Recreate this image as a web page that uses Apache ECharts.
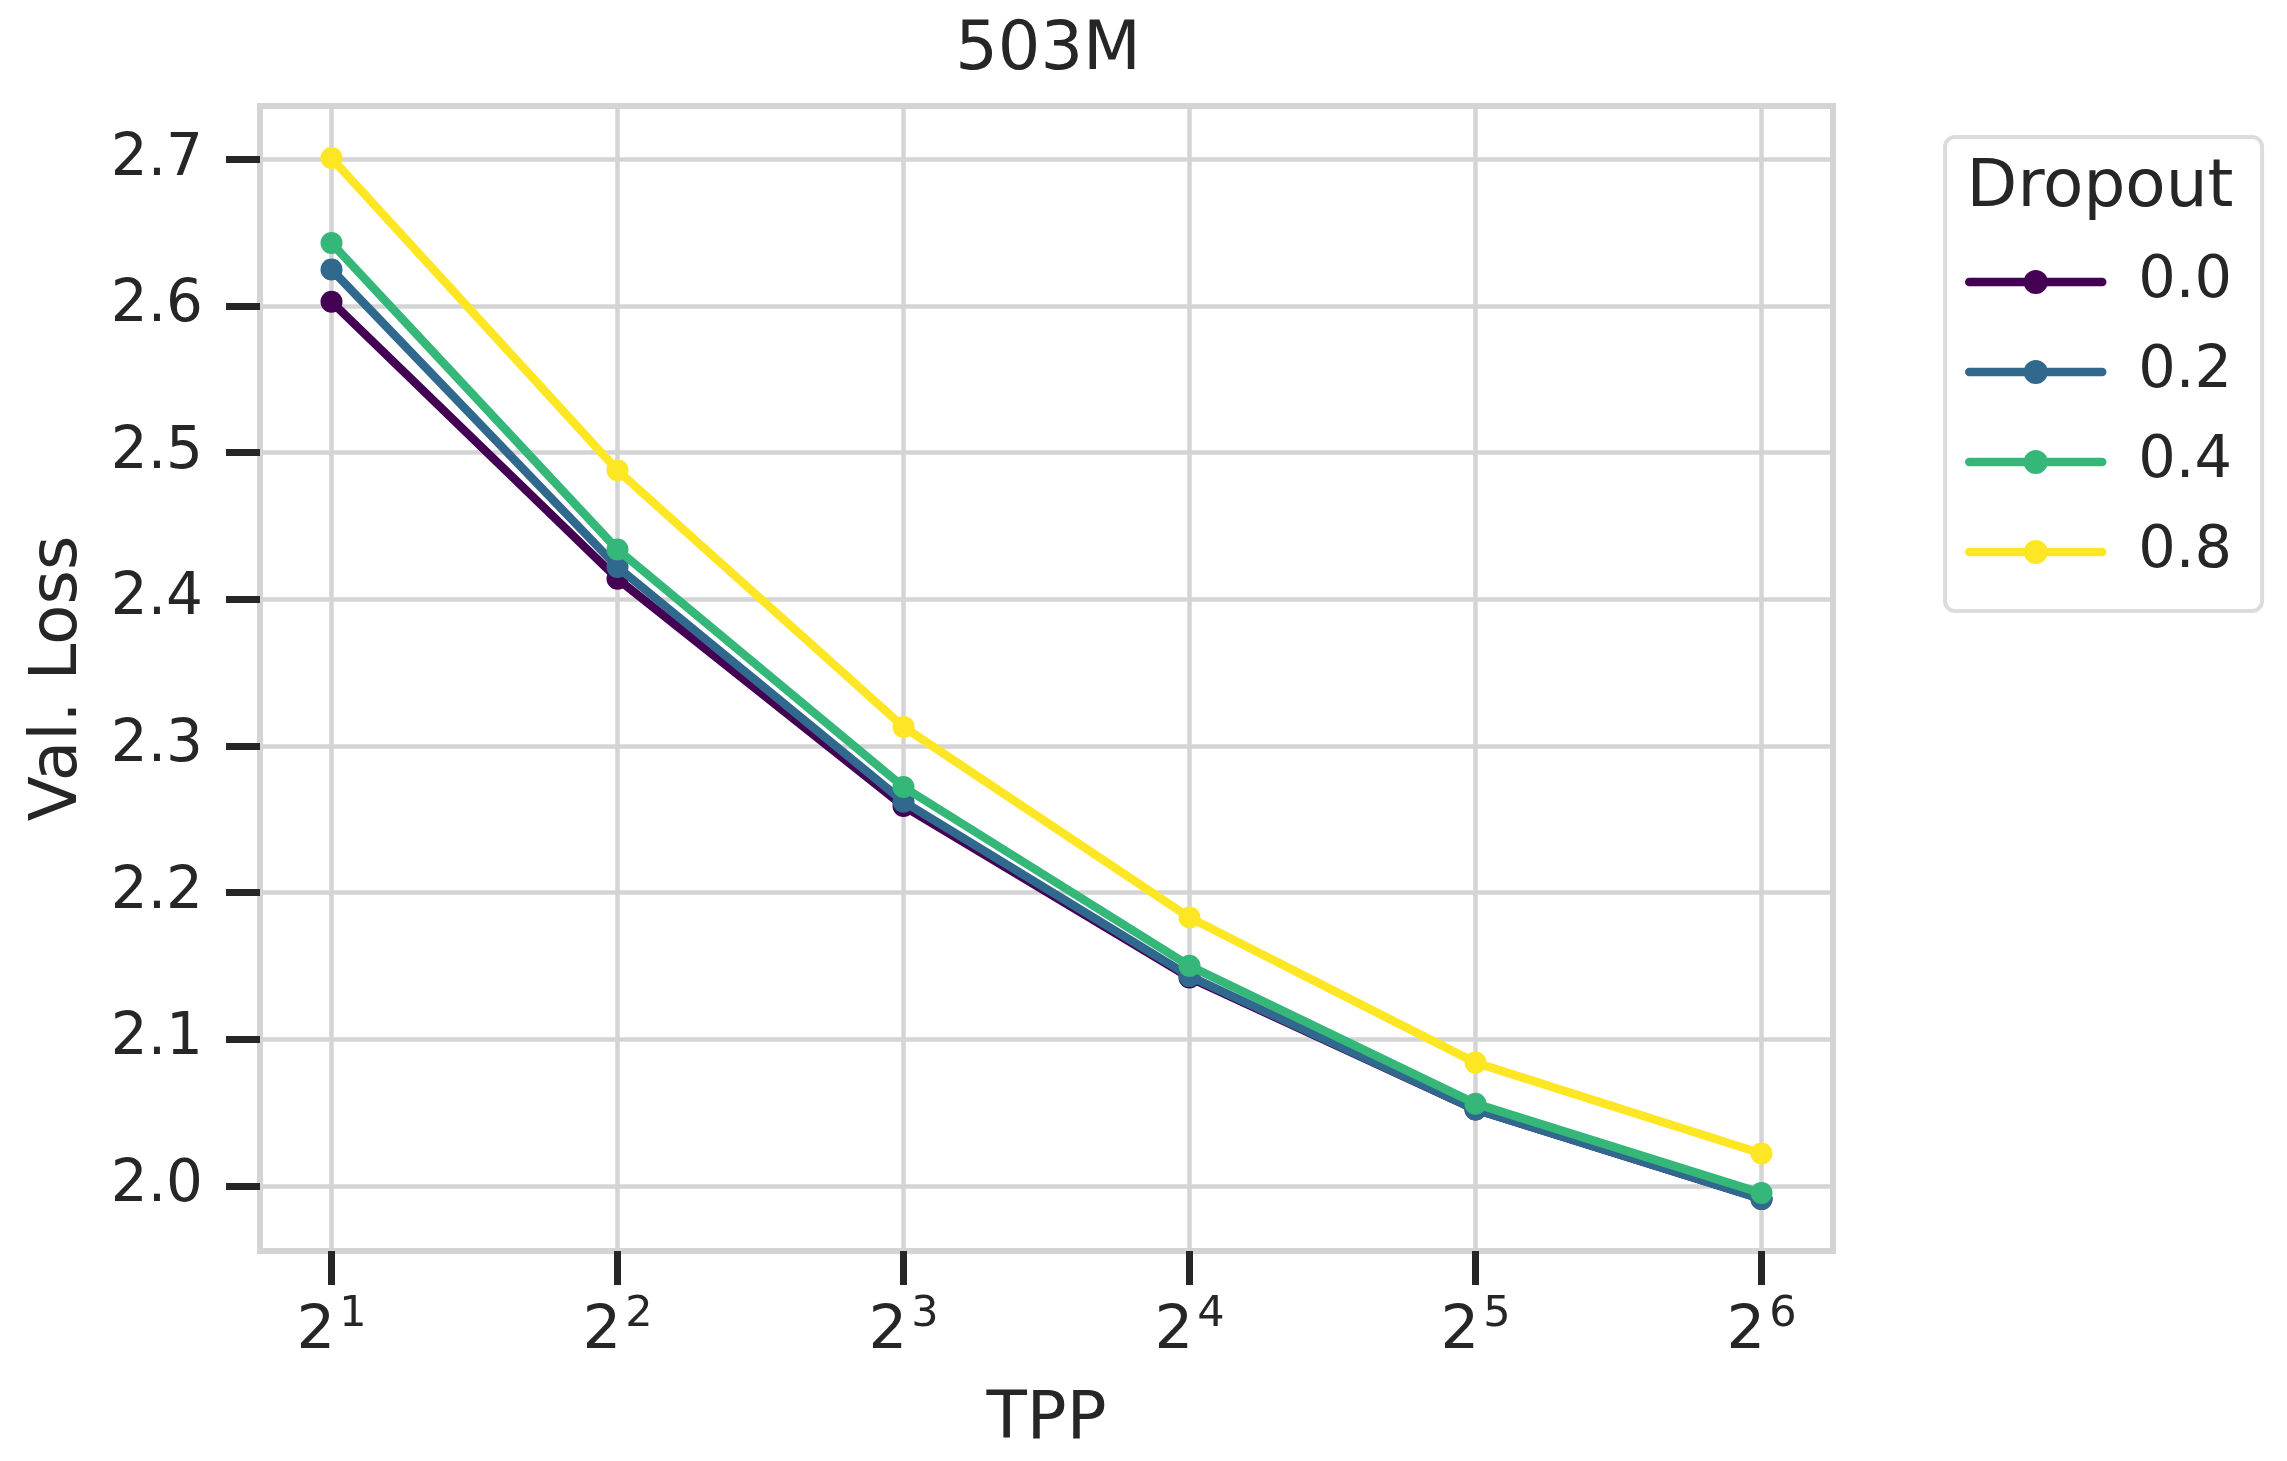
<!DOCTYPE html>
<html>
<head>
<meta charset="utf-8">
<script src="https://cdn.jsdelivr.net/npm/echarts@6/dist/echarts.min.js"></script>
<style>
  html, body { margin: 0; padding: 0; background: #fff; }
  #chart { width: 2287px; height: 1461px; }
</style>
</head>
<body>
<div id="chart"></div>
<script>
// tokens per parameter (x axis, log2 scale)
const tpp = [2, 4, 8, 16, 32, 64];
// dropout rates (legend)
const dropouts = ['0.0', '0.2', '0.4', '0.8'];
// validation loss per dropout rate
const loss00 = [2.603, 2.414, 2.259, 2.142, 2.052, 1.991];
const loss02 = [2.625, 2.422, 2.262, 2.143, 2.052, 1.991];
const loss04 = [2.643, 2.434, 2.272, 2.150, 2.056, 1.995];
const loss08 = [2.701, 2.488, 2.313, 2.183, 2.084, 2.022];
const yTicks = [2.0, 2.1, 2.2, 2.3, 2.4, 2.5, 2.6, 2.7];
const colors = ['#440154', '#31688e', '#35b779', '#fde725'];

const font = 'DejaVu Sans';
const ink = '#262626';
const gridGray = '#d4d4d4';

const allLoss = [loss00, loss02, loss04, loss08];

const series = dropouts.map((name, i) => ({
  name: name,
  type: 'line',
  z: 3 + i,
  data: tpp.map((t, j) => [t, allLoss[i][j]]),
  symbol: 'circle',
  symbolSize: 22,
  lineStyle: { width: 8.5, color: colors[i], cap: 'round', join: 'round' },
  itemStyle: { color: colors[i] },
  emphasis: { disabled: true },
}));

const chart = echarts.init(document.getElementById('chart'));
chart.setOption({
  animation: false,
  backgroundColor: '#fff',
  textStyle: { fontFamily: font, color: ink },
  title: [
    {
      text: '503M',
      left: 1043,
      top: 13,
      textAlign: 'center',
      textStyle: { fontFamily: font, fontSize: 67, fontWeight: 'normal', color: ink },
    },
    {
      text: 'Dropout',
      left: 2095,
      top: 151,
      textAlign: 'center',
      z: 10,
      textStyle: { fontFamily: font, fontSize: 66, fontWeight: 'normal', color: ink },
    },
  ],
  legend: {
    orient: 'vertical',
    left: 1945,
    top: 137,
    padding: [115, 30, 29, 20],
    itemWidth: 133,
    itemHeight: 30,
    itemGap: 30,
    backgroundColor: '#fff',
    borderColor: '#dcdcdc',
    borderWidth: 4,
    borderRadius: 10,
    lineStyle: { width: 8.5, cap: 'round' },
    textStyle: {
      fontFamily: font,
      fontSize: 59,
      color: ink,
      lineHeight: 60,
      padding: [0, 0, 0, 31],
    },
    data: dropouts,
  },
  grid: {
    left: 260,
    right: 454,
    top: 106,
    bottom: 210,
    show: true,
    borderWidth: 6,
    borderColor: gridGray,
    containLabel: false,
  },
  xAxis: {
    type: 'log',
    logBase: 2,
    min: Math.pow(2, 0.75),
    max: Math.pow(2, 6.25),
    name: 'TPP',
    nameLocation: 'middle',
    nameGap: 137,
    nameTextStyle: { fontFamily: font, fontSize: 66, color: ink },
    axisLine: { show: false },
    axisTick: {
      show: true,
      length: 34,
      lineStyle: { color: ink, width: 7 },
      customValues: tpp,
    },
    axisLabel: {
      margin: 42,
      customValues: tpp,
      formatter: (v) => '{b|2}{s|' + Math.round(Math.log2(v)) + '}',
      rich: {
        b: { fontFamily: font, fontSize: 61, color: ink, lineHeight: 70, verticalAlign: 'bottom' },
        s: { fontFamily: font, fontSize: 43, color: ink, lineHeight: 70, verticalAlign: 'top', padding: [0, 0, 0, 4] },
      },
    },
    splitLine: { show: true, lineStyle: { color: gridGray, width: 4.5 } },
  },
  yAxis: {
    type: 'value',
    min: 1.9555,
    max: 2.7365,
    name: 'Val. Loss',
    nameLocation: 'middle',
    nameGap: 168,
    nameRotate: 90,
    nameTextStyle: { fontFamily: font, fontSize: 66, color: ink },
    axisLine: { show: false },
    axisTick: {
      show: true,
      length: 34,
      lineStyle: { color: ink, width: 7 },
      customValues: yTicks,
    },
    axisLabel: {
      margin: 57,
      customValues: yTicks,
      fontFamily: font,
      fontSize: 58,
      color: ink,
      formatter: (v) => v.toFixed(1),
    },
    splitLine: { show: true, lineStyle: { color: gridGray, width: 4.5 } },
  },
  series: series,
});
</script>
</body>
</html>
